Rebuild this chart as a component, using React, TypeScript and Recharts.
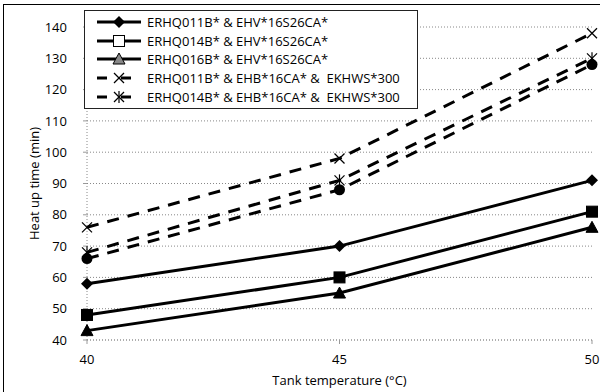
import { LineChart, Line, XAxis, YAxis, CartesianGrid } from "recharts";

const temps = [40, 45, 50];
const erhq011Ehv = [58, 70, 91];
const erhq014Ehv = [48, 60, 81];
const erhq016Ehv = [43, 55, 76];
const erhq011Ehb = [76, 98, 138];
const erhq014Ehb = [68, 91, 130];
const erhq016Ehb = [66, 88, 128];

const yTicks = [40, 50, 60, 70, 80, 90, 100, 110, 120, 130, 140];
const xTicks = [40, 45, 50];

type Shape = "diamond" | "square" | "triangle" | "x" | "asterisk" | "circle";

const series: { key: string; name: string; values: number[]; shape: Shape; dashed: boolean; inLegend: boolean }[] = [
  { key: "s1", name: "ERHQ011B* & EHV*16S26CA*", values: erhq011Ehv, shape: "diamond", dashed: false, inLegend: true },
  { key: "s2", name: "ERHQ014B* & EHV*16S26CA*", values: erhq014Ehv, shape: "square", dashed: false, inLegend: true },
  { key: "s3", name: "ERHQ016B* & EHV*16S26CA*", values: erhq016Ehv, shape: "triangle", dashed: false, inLegend: true },
  { key: "s4", name: "ERHQ011B* & EHB*16CA* &  EKHWS*300", values: erhq011Ehb, shape: "x", dashed: true, inLegend: true },
  { key: "s5", name: "ERHQ014B* & EHB*16CA* &  EKHWS*300", values: erhq014Ehb, shape: "asterisk", dashed: true, inLegend: true },
  { key: "s6", name: "ERHQ016B* & EHB*16CA* &  EKHWS*300", values: erhq016Ehb, shape: "circle", dashed: true, inLegend: false },
];

const data = temps.map((t, i) => {
  const row: Record<string, number> = { t };
  series.forEach((s) => (row[s.key] = s.values[i]));
  return row;
});

const FONT = "'Open Sans', sans-serif";

function Marker({ shape, cx, cy, open }: { shape: Shape; cx: number; cy: number; open?: boolean }) {
  const fill = open ? "#fff" : "#000";
  switch (shape) {
    case "diamond":
      return <polygon points={`${cx},${cy - 6} ${cx + 6},${cy} ${cx},${cy + 6} ${cx - 6},${cy}`} fill="#000" />;
    case "square":
      return <rect x={cx - 5.5} y={cy - 5.5} width={11} height={11} fill={fill} stroke="#000" strokeWidth={1} />;
    case "triangle":
      return <polygon points={`${cx},${cy - 6} ${cx + 6},${cy + 5} ${cx - 6},${cy + 5}`} fill={open ? "#888" : "#000"} stroke="#000" strokeWidth={1} />;
    case "circle":
      return <circle cx={cx} cy={cy} r={5.5} fill="#000" />;
    case "x":
      return (
        <g stroke="#000" strokeWidth={1.2}>
          <line x1={cx - 5} y1={cy - 5} x2={cx + 5} y2={cy + 5} />
          <line x1={cx - 5} y1={cy + 5} x2={cx + 5} y2={cy - 5} />
        </g>
      );
    case "asterisk":
      return (
        <g stroke="#000" strokeWidth={1.2}>
          <line x1={cx - 5} y1={cy - 5} x2={cx + 5} y2={cy + 5} />
          <line x1={cx - 5} y1={cy + 5} x2={cx + 5} y2={cy - 5} />
          <line x1={cx} y1={cy - 6} x2={cx} y2={cy + 6} />
        </g>
      );
  }
  return null;
}

function LegendBox() {
  return (
    <div
      style={{
        position: "absolute",
        left: 84,
        top: 10,
        width: 334,
        boxSizing: "border-box",
        border: "1px solid #222",
        background: "#fff",
        padding: "2px 6px 2px 10px",
        fontFamily: FONT,
        fontSize: 13,
        color: "#000",
      }}
    >
      {series
        .filter((s) => s.inLegend)
        .map((s) => (
          <div key={s.key} style={{ display: "flex", alignItems: "center", height: 18.6, whiteSpace: "pre" }}>
            <svg width={48} height={16} style={{ marginRight: 4 }}>
              <line
                x1={2}
                y1={8}
                x2={46}
                y2={8}
                stroke="#000"
                strokeWidth={3}
                strokeDasharray={s.dashed ? "10 14" : undefined}
              />
              <Marker shape={s.shape} cx={24} cy={8} open={s.shape === "square" || s.shape === "triangle"} />
            </svg>
            <span>{s.name}</span>
          </div>
        ))}
    </div>
  );
}

export default function App() {
  return (
    <div style={{ position: "fixed", left: 0, top: 0, width: 600, height: 392, background: "#fff", overflow: "hidden" }}>
      <div
        style={{
          position: "absolute",
          left: 3,
          top: 4,
          width: 610,
          height: 400,
          borderLeft: "1px solid #000",
          borderTop: "1px solid #000",
        }}
      />
      <LineChart
        width={600}
        height={392}
        data={data}
        margin={{ top: 27, right: 8, bottom: 2, left: 27 }}
        style={{ fontFamily: FONT }}
      >
        <CartesianGrid vertical={false} stroke="#888" strokeDasharray="1 2" />
        <XAxis
          dataKey="t"
          type="number"
          domain={[40, 50]}
          ticks={xTicks}
          height={50}
          axisLine={{ stroke: "#999", strokeDasharray: "1 2" }}
          tickLine={{ stroke: "#999" }}
          tickSize={4}
          tickMargin={11}
          tick={{ fill: "#000", fontSize: 13 }}
          label={{ value: "Tank temperature (°C)", position: "insideBottom", offset: 5, fill: "#000", fontSize: 13 }}
        />
        <YAxis
          type="number"
          domain={[40, 140]}
          ticks={yTicks}
          width={60}
          axisLine={{ stroke: "#888", strokeDasharray: "1 2" }}
          tickLine={{ stroke: "#999" }}
          tickSize={4}
          tickMargin={16}
          tick={{ fill: "#000", fontSize: 13 }}
          label={{
            value: "Heat up time (min)",
            angle: -90,
            position: "insideLeft",
            offset: 7,
            fill: "#000",
            fontSize: 13,
            style: { textAnchor: "middle" },
          }}
        />
        {series.map((s) => (
          <Line
            key={s.key}
            dataKey={s.key}
            name={s.name}
            stroke="#000"
            strokeWidth={3}
            strokeDasharray={s.dashed ? "12 9" : undefined}
            isAnimationActive={false}
            dot={(p: any) => <Marker key={`${s.key}-${p.index}`} shape={s.shape} cx={p.cx} cy={p.cy} />}
            activeDot={false}
          />
        ))}
      </LineChart>
      <LegendBox />
    </div>
  );
}
